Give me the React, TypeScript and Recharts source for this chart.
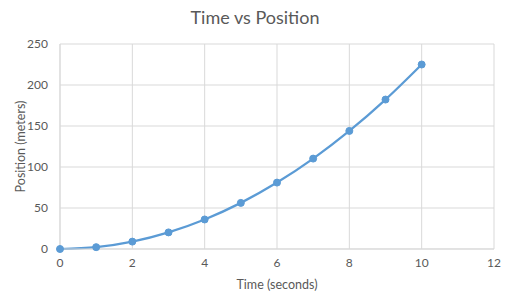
import { LineChart, Line, XAxis, YAxis, CartesianGrid } from 'recharts';

// 时间（秒）与位置（米）
const times = [0, 1, 2, 3, 4, 5, 6, 7, 8, 9, 10];
const positions = [0, 2.25, 9, 20.25, 36, 56.25, 81, 110.25, 144, 182.25, 225];
const xTicks = [0, 2, 4, 6, 8, 10, 12];
const yTicks = [0, 50, 100, 150, 200, 250];

const LINE_COLOR = '#5b9bd5';
const GRID_COLOR = '#d9d9d9';
const TEXT_COLOR = '#595959';
const FONT = 'Lato, "Open Sans", sans-serif';

const data = times.map((t, i) => ({ t, pos: positions[i] }));

export default function App() {
  return (
    <div
      style={{
        position: 'absolute',
        left: 0,
        top: 0,
        width: 510,
        height: 300,
        background: '#fff',
        fontFamily: FONT,
      }}
    >
      <div
        style={{
          position: 'absolute',
          top: 6,
          width: 510,
          textAlign: 'center',
          fontSize: 18,
          color: TEXT_COLOR,
        }}
      >
        Time vs Position
      </div>
      <LineChart
        width={510}
        height={300}
        data={data}
        margin={{ top: 44, right: 16, bottom: 0, left: 0 }}
      >
        <CartesianGrid stroke={GRID_COLOR} strokeWidth={1} />
        <XAxis
          dataKey="t"
          type="number"
          domain={[0, 12]}
          ticks={xTicks}
          height={51}
          stroke={GRID_COLOR}
          tickLine={false}
          tickSize={0}
          tickMargin={9}
          tick={{ fill: TEXT_COLOR, fontSize: 12, fontFamily: FONT }}
          label={{
            value: 'Time (seconds)',
            position: 'insideBottom',
            offset: 11,
            fill: TEXT_COLOR,
            fontSize: 12.5,
            fontFamily: FONT,
          }}
        />
        <YAxis
          type="number"
          domain={[0, 250]}
          ticks={yTicks}
          width={60}
          stroke={GRID_COLOR}
          tickLine={false}
          tickSize={0}
          tickMargin={12}
          tick={{ fill: TEXT_COLOR, fontSize: 12, fontFamily: FONT }}
          label={{
            value: 'Position (meters)',
            angle: -90,
            position: 'insideLeft',
            offset: 21,
            style: { textAnchor: 'middle' },
            fill: TEXT_COLOR,
            fontSize: 12.5,
            fontFamily: FONT,
          }}
        />
        <Line
          type="monotone"
          dataKey="pos"
          stroke={LINE_COLOR}
          strokeWidth={2.25}
          dot={{ r: 3.5, fill: LINE_COLOR, stroke: LINE_COLOR, strokeWidth: 1 }}
          isAnimationActive={false}
        />
      </LineChart>
    </div>
  );
}
